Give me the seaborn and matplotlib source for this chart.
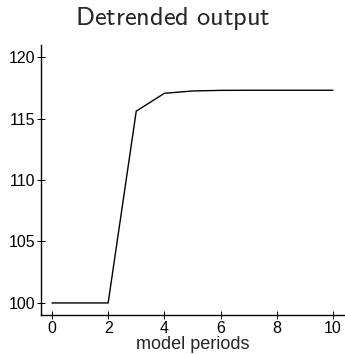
import matplotlib
matplotlib.use("Agg")
import matplotlib.pyplot as plt
import seaborn as sns
import pandas as pd

# Detrended output path over model periods
periods = [0, 1, 2, 3, 4, 5, 6, 7, 8, 9, 10]
output = [100.0, 100.0, 100.0, 115.6, 117.05, 117.24, 117.29, 117.3, 117.3, 117.3, 117.3]
x_ticks = [0, 2, 4, 6, 8, 10]
y_ticks = [100, 105, 110, 115, 120]

sns.set_style("ticks")
plt.rcParams["font.family"] = ["Liberation Sans", "DejaVu Sans"]
plt.rcParams["mathtext.fontset"] = "cm"

df = pd.DataFrame({"period": periods, "output": output})

fig = plt.figure(figsize=(3.45, 3.54), dpi=100)
ax = fig.add_axes([41 / 345, 39 / 354, 304 / 345, 270 / 354])
sns.lineplot(data=df, x="period", y="output", color="black", linewidth=1.0, ax=ax)

ax.set_xlim(-0.39, 10.43)
ax.set_ylim(99.02, 120.98)
ax.set_xticks(x_ticks)
ax.set_yticks(y_ticks)
ax.tick_params(direction="inout", length=6, width=0.7, labelsize=11.5, colors="black")
ax.tick_params(axis="x", pad=1.5)
ax.tick_params(axis="y", pad=1)
sns.despine(ax=ax)
for s in ("left", "bottom"):
    ax.spines[s].set_linewidth(1.0)
    ax.spines[s].set_color("black")
ax.set_xlabel("model periods", fontsize=13, labelpad=0)
ax.set_ylabel("")
fig.text(0.5, 1 - 19 / 354, r"$\mathsf{Detrended\ output}$", ha="center", va="center", fontsize=19)

fig.savefig("out.png", dpi=100)
